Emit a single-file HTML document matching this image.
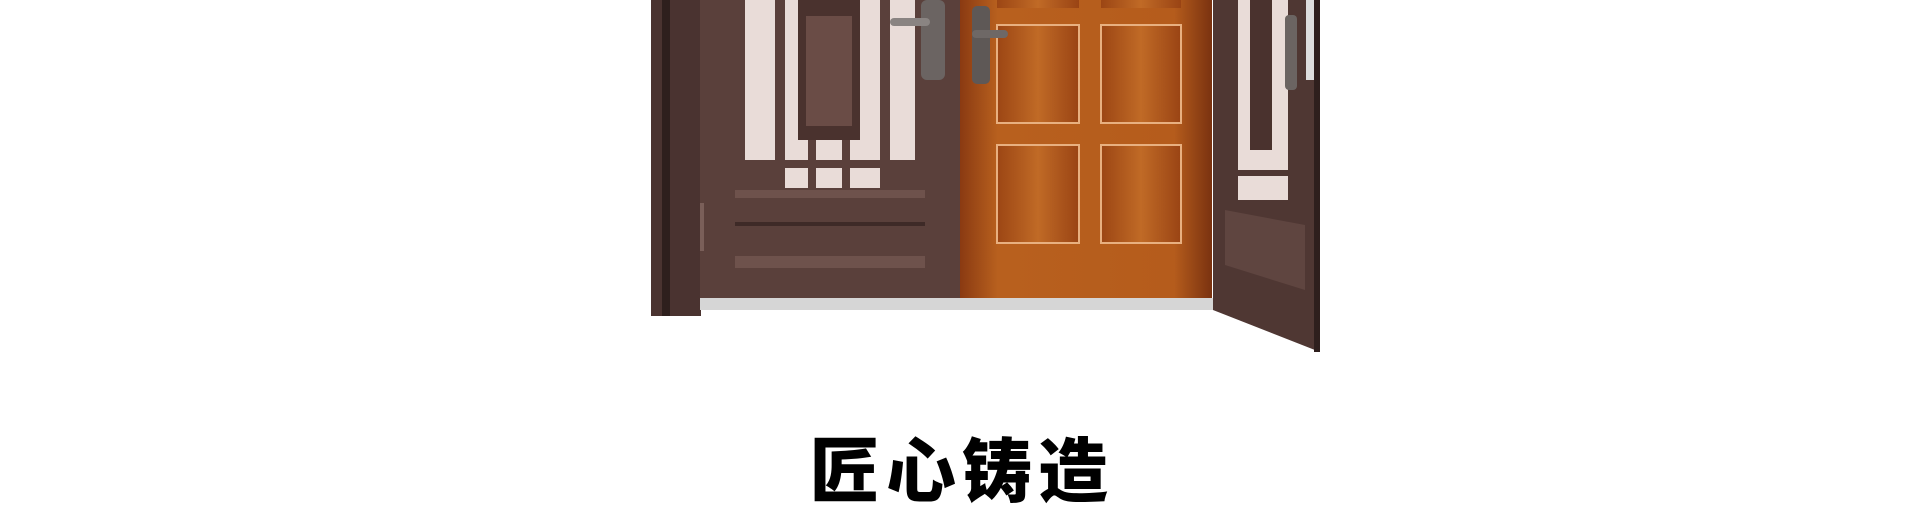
<!DOCTYPE html>
<html><head><meta charset="utf-8"><style>
html,body{margin:0;padding:0;background:#fff;width:1924px;height:504px;overflow:hidden}
#t{position:absolute;left:0;width:1924px;top:432px;text-align:center;font-family:"Liberation Sans","Noto Sans CJK SC",sans-serif;font-weight:900;font-size:70px;letter-spacing:6px;color:#000;line-height:80px}
</style></head><body>
<svg width="1924" height="504" style="position:absolute;left:0;top:0">
<defs>
<linearGradient id="wood" x1="0" x2="1"><stop offset="0" stop-color="#8a3a12"/><stop offset="0.15" stop-color="#b8601e"/><stop offset="0.85" stop-color="#b55c1c"/><stop offset="1" stop-color="#7a3210"/></linearGradient>
<linearGradient id="pan" x1="0" x2="1"><stop offset="0" stop-color="#9c4614"/><stop offset="0.5" stop-color="#c06a26"/><stop offset="1" stop-color="#9a4414"/></linearGradient>
</defs>
<g>
<rect x="651" y="0" width="50" height="316" fill="#4a3330"/>
<rect x="662" y="0" width="8" height="316" fill="#2e1f1d"/>
</g>
<g>
<rect x="700" y="0" width="260" height="300" fill="#5a403b"/>
<rect x="745" y="0" width="170" height="188" fill="#e9dcd8"/>
<rect x="775" y="0" width="10" height="188" fill="#5a403b"/>
<rect x="880" y="0" width="10" height="188" fill="#5a403b"/>
<rect x="798" y="0" width="62" height="140" fill="#4a322e"/>
<rect x="806" y="16" width="46" height="110" fill="#6a4c46"/>
<rect x="745" y="160" width="170" height="8" fill="#5a403b"/>
<rect x="745" y="162" width="30" height="26" fill="#5a403b"/><rect x="888" y="162" width="30" height="26" fill="#5a403b"/>
<rect x="808" y="140" width="8" height="48" fill="#5a403b"/><rect x="842" y="140" width="8" height="48" fill="#5a403b"/>
<rect x="735" y="190" width="190" height="8" fill="#6e524c"/>
<rect x="735" y="222" width="190" height="4" fill="#3e2a27"/>
<rect x="735" y="256" width="190" height="12" fill="#6e524c"/>
<rect x="700" y="203" width="4" height="48" fill="#7a5f59"/>
<rect x="921" y="0" width="24" height="80" rx="6" fill="#6b6462"/>
<rect x="890" y="18" width="40" height="8" rx="4" fill="#8a8482"/>
</g>
<g>
<rect x="960" y="0" width="252" height="298" fill="url(#wood)"/>
<rect x="997" y="0" width="82" height="8" fill="url(#pan)"/><rect x="1101" y="0" width="80" height="8" fill="url(#pan)"/>
<rect x="997" y="25" width="82" height="98" fill="url(#pan)" stroke="#e8b080" stroke-width="2"/>
<rect x="1101" y="25" width="80" height="98" fill="url(#pan)" stroke="#e8b080" stroke-width="2"/>
<rect x="997" y="145" width="82" height="98" fill="url(#pan)" stroke="#e8b080" stroke-width="2"/>
<rect x="1101" y="145" width="80" height="98" fill="url(#pan)" stroke="#e8b080" stroke-width="2"/>
<rect x="972" y="6" width="18" height="78" rx="5" fill="#5e5856"/>
<rect x="972" y="30" width="36" height="8" rx="4" fill="#6e6866"/>
</g>
<rect x="700" y="298" width="515" height="12" fill="#d6d6d6"/>
<g>
<polygon points="1213,0 1320,0 1320,352 1213,310" fill="#4f3733"/>
<rect x="1238" y="0" width="50" height="200" fill="#e9dcd8"/>
<rect x="1250" y="0" width="22" height="150" fill="#4a322e"/>
<rect x="1238" y="170" width="50" height="6" fill="#4f3733"/>
<polygon points="1225,210 1305,225 1305,290 1225,265" fill="#5f4540"/>
<rect x="1285" y="15" width="12" height="75" rx="4" fill="#6b6462"/>
<rect x="1306" y="0" width="8" height="80" fill="#ddd"/>
<rect x="1314" y="0" width="6" height="352" fill="#2e1f1d"/>
</g>
</svg>
<div id="t">匠心铸造</div>
</body></html>
